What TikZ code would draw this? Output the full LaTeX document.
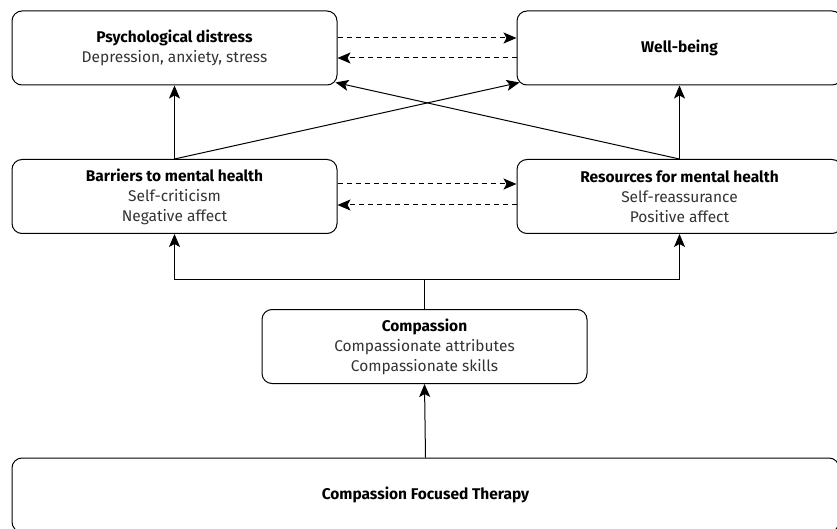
\documentclass[tikz,border=0pt]{standalone}
\usepackage{fontspec}
\setmainfont{Fira Sans}
\usetikzlibrary{arrows.meta,calc}
\definecolor{txtgray}{HTML}{333333}
\begin{document}
\begin{tikzpicture}[x=1pt,y=-1pt,
  box/.style={draw=black,line width=1pt,rounded corners=10pt,minimum width=325pt,minimum height=74pt,inner sep=0pt,align=center,font=\fontsize{15.5}{20}\selectfont,text=txtgray},
  arr/.style={line width=1pt,-{Stealth[length=13pt,width=11pt,inset=3pt]}},
  darr/.style={arr,dash pattern=on 5pt off 4pt}]
\useasboundingbox (0,0) rectangle (837,529);
\clip (0,0) rectangle (837,529);
\node[box] (pd) at (174.5,48) {\textbf{\color{black}Psychological distress}\\Depression, anxiety, stress};
\node[box] (wb) at (679.5,48) {\textbf{\color{black}Well-being}};
\node[box] (bm) at (174.5,196.5) {\textbf{\color{black}Barriers to mental health}\\Self-criticism\\Negative affect};
\node[box] (rm) at (679.5,196.5) {\textbf{\color{black}Resources for mental health}\\Self-reassurance\\Positive affect};
\node[box] (cp) at (424.5,346.5) {\textbf{\color{black}Compassion}\\Compassionate attributes\\Compassionate skills};
\node[box,minimum width=827pt] (cft) at (425.5,495) {\textbf{\color{black}Compassion Focused Therapy}};
% dashed pairs
\draw[darr] ($(pd.east)+(0,-10)$) -- ($(wb.west)+(0,-10)$);
\draw[darr] ($(wb.west)+(0,10)$) -- ($(pd.east)+(0,10)$);
\draw[darr] ($(bm.east)+(0,-12.5)$) -- ($(rm.west)+(0,-12.5)$);
\draw[darr] ($(rm.west)+(0,8.5)$) -- ($(bm.east)+(0,8.5)$);
% upward arrows
\draw[arr] (bm.north) -- (pd.south);
\draw[arr] (rm.north) -- (wb.south);
\draw[arr] (bm.north) -- ($(wb.south west)+(3,-3)$);
\draw[arr] (rm.north) -- ($(pd.south east)+(-2,-3)$);
% branch
\draw[line width=1pt] (cp.north) -- ++(0,-30) coordinate (j);
\draw[arr] (j) -| (bm.south);
\draw[arr] (j) -| (rm.south);
\draw[arr] (cft.north) -- (cp.south);
\end{tikzpicture}
\end{document}
